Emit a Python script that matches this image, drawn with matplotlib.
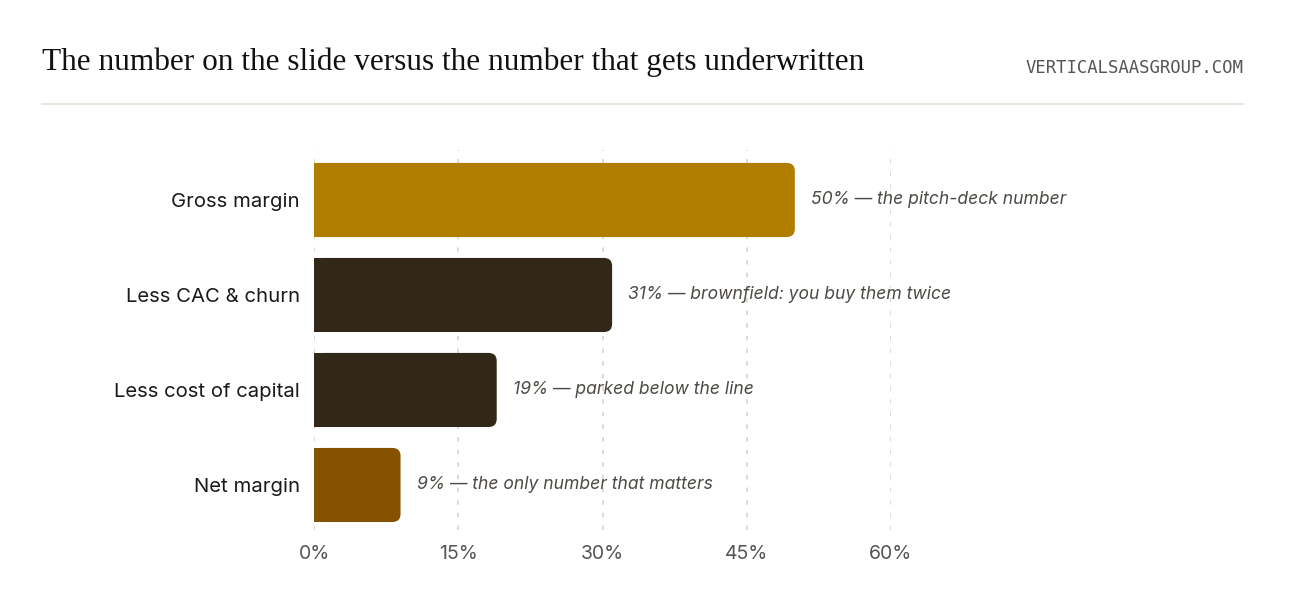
import matplotlib.pyplot as plt
from matplotlib.patches import FancyBboxPatch, Rectangle

categories = ['Gross margin', 'Less CAC & churn', 'Less cost of capital', 'Net margin']
values = [50, 31, 19, 9]
notes = ['the pitch-deck number', 'brownfield: you buy them twice',
         'parked below the line', 'the only number that matters']
colors = ['#b07d00', '#322819', '#322819', '#845200']
ticks = [0, 15, 30, 45, 60]

W, H = 1290, 612
fig = plt.figure(figsize=(W / 100, H / 100), dpi=100)
fig.patch.set_facecolor('white')

# axes placed in pixel terms: x 314..891, y 150..530
ax = fig.add_axes([314 / W, 1 - 530 / H, (891 - 314) / W, (530 - 150) / H])
ax.set_xlim(0, 60)
ax.set_ylim(3.474, -0.526)
for s in ax.spines.values():
    s.set_visible(False)
ax.set_facecolor('none')

ax.set_xticks(ticks)
ax.set_xticklabels([f'{t}%' for t in ticks], fontsize=14, color='#555555', family='Inter')
ax.set_yticks(range(len(categories)))
ax.set_yticklabels(categories, fontsize=14.6, color='#1a1a1a', family='Inter')
ax.tick_params(axis='both', length=0)
ax.tick_params(axis='x', pad=11)
ax.tick_params(axis='y', pad=10)

for t in ticks:
    ax.axvline(t, color='#dcd8cf', lw=1.3, ls=(0, (2.5, 4.5)), zorder=0)

bar_h = 0.78
rx = 0.85  # corner radius in x data units (~8 px)
aspect = (8 / 95) / rx
for i, (v, c) in enumerate(zip(values, colors)):
    y0 = i - bar_h / 2
    ax.add_patch(FancyBboxPatch((0, y0), v, bar_h,
                                boxstyle=f'round,pad=0,rounding_size={rx}',
                                mutation_aspect=aspect, fc=c, ec='none', zorder=2))
    ax.add_patch(Rectangle((0, y0), v / 2, bar_h, fc=c, ec='none', zorder=2))
    ax.text(v + 1.7, i, f'{v}% \u2014 {notes[i]}', va='center', ha='left',
            fontsize=12.6, style='italic', color='#4d4a45', family='Inter', zorder=3)

fig.text(42 / W, 1 - 62 / H, 'The number on the slide versus the number that gets underwritten',
         fontsize=22.5, family='Liberation Serif', color='#111111', va='center', ha='left')
fig.text(1243 / W, 1 - 68 / H, 'VERTICALSAASGROUP.COM', fontsize=12.4,
         family='DejaVu Sans Mono', color='#555555', va='center', ha='right')
fig.add_artist(plt.Line2D([42 / W, 1243 / W], [1 - 104 / H, 1 - 104 / H],
                          color='#e3e0d6', lw=1.2))

fig.savefig('out.png', dpi=100, facecolor='white')
